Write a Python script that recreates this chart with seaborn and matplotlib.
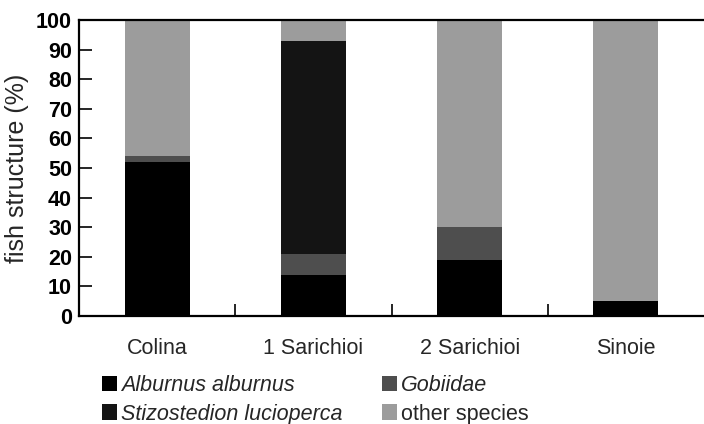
import matplotlib
matplotlib.use("Agg")
import matplotlib.pyplot as plt
import seaborn as sns
import pandas as pd
import numpy as np
from matplotlib.patches import Patch

sites = ["Colina", "1 Sarichioi", "2 Sarichioi", "Sinoie"]
alburnus = [52, 14, 19, 5]
gobiidae = [2, 7, 11, 0]
stizostedion = [0, 72, 0, 0]
other = [46, 7, 70, 95]

species = ["Alburnus alburnus", "Gobiidae", "Stizostedion lucioperca", "other species"]
series = [alburnus, gobiidae, stizostedion, other]
colors = ["#000000", "#4e4e4e", "#141414", "#9c9c9c"]
italic = {"Alburnus alburnus": True, "Gobiidae": True,
          "Stizostedion lucioperca": True, "other species": False}

sns.set_theme(style="white")
plt.rcParams["font.family"] = ["Liberation Sans", "DejaVu Sans"]

fig = plt.figure(figsize=(7.04, 4.24), dpi=100)
ax = fig.add_axes([79 / 704, 1 - 316 / 424, 625 / 704, 296 / 424])

bottom = np.zeros(len(sites))
for name, vals, col in zip(species, series, colors):
    df = pd.DataFrame({"site": sites, "value": vals})
    sns.barplot(data=df, x="site", y="value", order=sites, color=col,
                width=0.415, bottom=bottom, ax=ax, saturation=1,
                edgecolor="none", linewidth=0)
    bottom = bottom + np.array(vals)

ax.set_xlim(-0.5, 3.5)
ax.set_ylim(0, 100)
ax.set_yticks(range(0, 101, 10))
ax.set_yticklabels([str(v) for v in range(0, 101, 10)], fontsize=15.5, fontweight="bold")
ax.tick_params(axis="y", direction="in", length=9.5, width=1.2, colors="black", left=True, pad=5)
ax.set_xticks(range(len(sites)))
ax.set_xticklabels(sites, fontsize=15.5)
ax.tick_params(axis="x", which="major", length=0, pad=16)
ax.set_xticks([0.5, 1.5, 2.5], minor=True)
ax.tick_params(axis="x", which="minor", direction="in", length=9, width=1.2, bottom=True, colors="black")
ax.set_xlabel("")
ax.set_ylabel("fish structure (%)", fontsize=18, labelpad=5)

for s in ["left", "bottom", "top"]:
    ax.spines[s].set_visible(True)
    ax.spines[s].set_color("black")
    ax.spines[s].set_linewidth(1.6)
ax.spines["right"].set_visible(False)

# legend columns: (Alburnus, Stizostedion), (Gobiidae, other species)
leg_order = [0, 2, 1, 3]
handles = [Patch(facecolor=colors[i], edgecolor="none") for i in leg_order]
labels = [species[i] for i in leg_order]
leg = fig.legend(handles, labels, loc="upper left", bbox_to_anchor=(102 / 704, 1 - 375 / 424),
                 ncol=2, frameon=False, fontsize=15.5, handlelength=0.7, handleheight=0.7,
                 handletextpad=0.2, columnspacing=1.8, labelspacing=0.35, borderaxespad=0,
                 borderpad=0)
for t in leg.get_texts():
    if italic[t.get_text()]:
        t.set_fontstyle("italic")

fig.savefig("out.png", dpi=100)
